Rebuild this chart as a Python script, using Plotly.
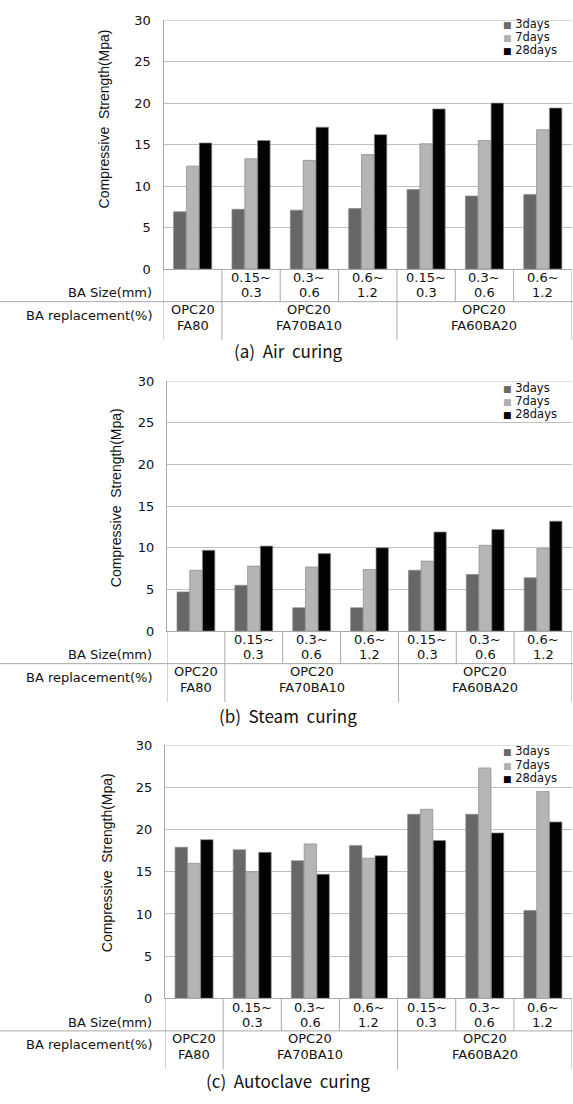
import plotly.graph_objects as go

# ---- data -------------------------------------------------------------
CATEGORIES = ["FA80", "BA10 0.15-0.3", "BA10 0.3-0.6", "BA10 0.6-1.2",
              "BA20 0.15-0.3", "BA20 0.3-0.6", "BA20 0.6-1.2"]
BA_SIZE_TOP = ["", "0.15~", "0.3~", "0.6~", "0.15~", "0.3~", "0.6~"]
BA_SIZE_BOTTOM = ["", "0.3", "0.6", "1.2", "0.3", "0.6", "1.2"]
MIX_LINE1 = ["OPC20", "OPC20", "OPC20"]
MIX_LINE2 = ["FA80", "FA70BA10", "FA60BA20"]
MIX_SPAN = [(0, 1), (1, 4), (4, 7)]
AGES = ["3days", "7days", "28days"]

AIR_3 = [6.9, 7.2, 7.1, 7.3, 9.6, 8.8, 9.0]
AIR_7 = [12.4, 13.3, 13.1, 13.8, 15.1, 15.5, 16.8]
AIR_28 = [15.2, 15.5, 17.1, 16.2, 19.3, 20.0, 19.4]

STEAM_3 = [4.7, 5.5, 2.8, 2.8, 7.3, 6.8, 6.4]
STEAM_7 = [7.3, 7.8, 7.7, 7.4, 8.4, 10.3, 9.9]
STEAM_28 = [9.7, 10.2, 9.3, 10.0, 11.9, 12.2, 13.2]

AUTO_3 = [17.9, 17.6, 16.3, 18.1, 21.8, 21.8, 10.4]
AUTO_7 = [16.0, 15.0, 18.3, 16.6, 22.4, 27.3, 24.5]
AUTO_28 = [18.8, 17.3, 14.7, 16.9, 18.7, 19.6, 20.9]

NBSP = "\u00a0"
CAPTIONS = [f"(a){NBSP} Air{NBSP} curing", f"(b){NBSP} Steam{NBSP} curing",
            f"(c){NBSP} Autoclave{NBSP} curing"]
Y_TITLE = f"Compressive{NBSP} Strength(Mpa)"

# ---- page geometry (pixels) -------------------------------------------
W, H = 573, 1104
PANELS = [
    dict(series=[AIR_3, AIR_7, AIR_28], left=163.5, top=13.3, bottom=265.7,
         title_x=104, title_y=114, legend_y=[17.0, 30.5, 44.0], cap_dy=83),
    dict(series=[STEAM_3, STEAM_7, STEAM_28], left=167.0, top=379.3, bottom=632.7,
         title_x=116, title_y=498, legend_y=[386.0, 399.5, 413.0], cap_dy=86),
    dict(series=[AUTO_3, AUTO_7, AUTO_28], left=165.0, top=748.3, bottom=1005.0,
         title_x=107, title_y=868, legend_y=[754.5, 768.0, 781.5], cap_dy=83),
]
RIGHT = 572.0
ROW1_H = 33
ROW2_H = 39

BAR_COLORS = ["#676767", "#b5b5b5", "#030303"]
LEGEND_COLORS = ["#6a6a6a", "#b0b0b0", "#000000"]
GRID = "#c0c0c0"
RULE = "#a8a8a8"
TXT_FONT = "DejaVu Sans"
CAP_FONT = "Noto Sans CJK KR"
TITLE_FONT = "Liberation Sans Narrow, Arial Narrow, Liberation Sans, sans-serif"


def px(x):
    return x / W


def py(y):
    return 1 - y / H


def note(**kw):
    base = dict(showarrow=False, xanchor="center", yanchor="middle")
    base.update(kw)
    return base


fig = go.Figure()
shapes = []
annotations = []

for k, p in enumerate(PANELS, start=1):
    xa = "x" if k == 1 else f"x{k}"
    ya = "y" if k == 1 else f"y{k}"
    for vals, name, col in zip(p["series"], AGES, BAR_COLORS):
        fig.add_trace(go.Bar(
            x=CATEGORIES, y=vals, name=name, xaxis=xa, yaxis=ya,
            marker=dict(color=col, line=dict(color="#8a8a8a", width=0.7)),
            showlegend=False,
        ))

    xkey = "xaxis" if k == 1 else f"xaxis{k}"
    ykey = "yaxis" if k == 1 else f"yaxis{k}"
    fig.update_layout(**{
        xkey: dict(domain=[px(p["left"]), px(RIGHT)], anchor=ya, type="category",
                   categoryorder="array", categoryarray=CATEGORIES,
                   showticklabels=False, ticks="", showgrid=False,
                   showline=True, linecolor=RULE, linewidth=1, zeroline=False,
                   range=[-0.5, 6.5], fixedrange=True),
        ykey: dict(domain=[py(p["bottom"]), py(p["top"])], anchor=xa,
                   range=[0, 30], dtick=5, tick0=0, showgrid=True,
                   gridcolor=GRID, gridwidth=1, zeroline=False,
                   showline=True, linecolor=RULE, linewidth=1, ticks="",
                   ticklabelstandoff=9,
                   tickfont=dict(family=TXT_FONT, size=13, color="#111111"),
                   fixedrange=True),
    })

    b = p["bottom"]
    # top gridline at 30
    shapes.append(dict(type="line", xref=xa, yref=ya, x0=-0.5, x1=6.5, y0=30, y1=30,
                       line=dict(color=GRID, width=1)))
    # table: BA size row
    for i in range(len(CATEGORIES) + 1):
        shapes.append(dict(type="line", xref=xa, yref="paper", x0=i - 0.5, x1=i - 0.5,
                           y0=py(b), y1=py(b + ROW1_H), line=dict(color=RULE, width=1)))
    shapes.append(dict(type="line", xref="paper", yref="paper", x0=0, x1=1,
                       y0=py(b + ROW1_H), y1=py(b + ROW1_H), line=dict(color=RULE, width=1)))
    # table: replacement row
    for s, e in MIX_SPAN:
        shapes.append(dict(type="line", xref=xa, yref="paper", x0=s - 0.5, x1=s - 0.5,
                           y0=py(b + ROW1_H), y1=py(b + ROW1_H + ROW2_H),
                           line=dict(color=RULE, width=1)))
    shapes.append(dict(type="line", xref=xa, yref="paper", x0=6.5, x1=6.5,
                       y0=py(b + ROW1_H), y1=py(b + ROW1_H + ROW2_H),
                       line=dict(color=RULE, width=1)))

    tfont = dict(family=TXT_FONT, size=13, color="#111111")
    for i, cat in enumerate(CATEGORIES):
        if BA_SIZE_TOP[i]:
            annotations.append(note(xref=xa, yref="paper", x=i, y=py(b + 9),
                                    text=BA_SIZE_TOP[i], font=tfont))
            annotations.append(note(xref=xa, yref="paper", x=i, y=py(b + 24),
                                    text=BA_SIZE_BOTTOM[i], font=tfont))
    annotations.append(note(xref="paper", yref="paper", x=px(154), y=py(b + 24),
                            xanchor="right", text="BA Size(mm)", font=tfont))
    for (s, e), l1, l2 in zip(MIX_SPAN, MIX_LINE1, MIX_LINE2):
        xc = (s + e - 1) / 2
        annotations.append(note(xref=xa, yref="paper", x=xc, y=py(b + ROW1_H + 8),
                                text=l1, font=tfont))
        annotations.append(note(xref=xa, yref="paper", x=xc, y=py(b + ROW1_H + 24),
                                text=l2, font=tfont))
    annotations.append(note(xref="paper", yref="paper", x=px(154), y=py(b + ROW1_H + 14),
                            xanchor="right", text="BA replacement(%)", font=tfont))

    # legend
    for name, col, ly in zip(AGES, LEGEND_COLORS, p["legend_y"]):
        annotations.append(note(
            xref="paper", yref="paper", x=px(501), y=py(ly), xanchor="left",
            text=f'<span style="color:{col};font-size:9px">■</span> {name}',
            font=dict(family=TXT_FONT, size=11.5, color="#111111")))

    # y axis title
    annotations.append(note(xref="paper", yref="paper", x=px(p["title_x"]),
                            y=py(p["title_y"]), text=Y_TITLE, textangle=-90,
                            font=dict(family=TITLE_FONT, size=14, color="#111111")))
    # caption
    annotations.append(note(xref="paper", yref="paper", x=px(288),
                            y=py(b + p["cap_dy"]), text=CAPTIONS[k - 1],
                            font=dict(family=CAP_FONT, size=17, color="#111111")))

fig.update_layout(
    width=W, height=H, margin=dict(l=0, r=0, t=0, b=0),
    paper_bgcolor="white", plot_bgcolor="white",
    barmode="group", bargap=0.34, bargroupgap=0.03,
    showlegend=False, shapes=shapes, annotations=annotations,
)

fig.write_html("out.html", config={"displayModeBar": False})
